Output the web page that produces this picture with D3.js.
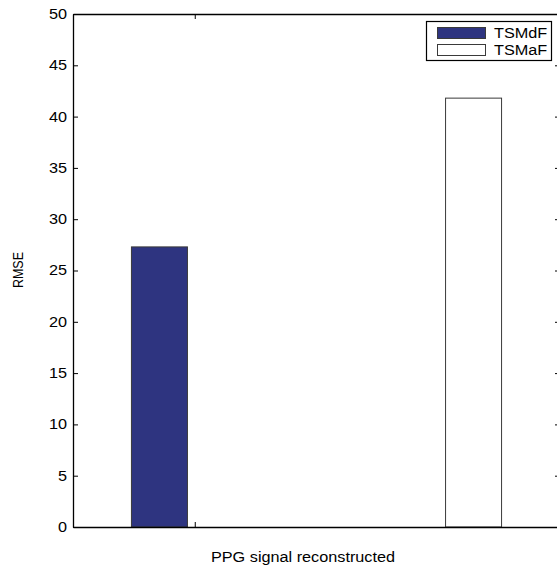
<!DOCTYPE html>
<html><head><meta charset="utf-8">
<script src="https://cdn.jsdelivr.net/npm/d3@7"></script>
<style>body{margin:0;background:#fff}svg{display:block}text{font-family:"Liberation Sans",Arial,sans-serif}</style>
</head><body><div id="chart"></div>
<script>
const seriesNames = ["TSMdF", "TSMaF"];
const groupIndex = [1, 2];
const rmseValues = [27.3, 41.8];
const yTicks = [0, 5, 10, 15, 20, 25, 30, 35, 40, 45, 50];
const xTicks = [1];
const colors = ["#2e3480", "#ffffff"];

const W = 557, H = 566;
const SX = 1.16; // horizontal stretch of the reference's lettering
const m = {left: 73, top: 14, right: 560, bottom: 527};
const svg = d3.select("#chart").append("svg").attr("width", W).attr("height", H);

const x = d3.scaleLinear().domain([0.5, 2.5]).range([m.left, m.right]);
const y = d3.scaleLinear().domain([0, 50]).range([m.bottom, m.top]);

const barW = 0.23, offset = 0.145;
svg.selectAll("rect.bar").data(rmseValues).join("rect")
  .attr("class", "bar")
  .attr("x", (d, i) => x(groupIndex[i] + (i === 0 ? -offset : offset) - barW / 2))
  .attr("width", (d, i) => x(barW) - x(0))
  .attr("y", d => y(d))
  .attr("height", d => y(0) - y(d))
  .attr("fill", (d, i) => colors[i])
  .attr("stroke", "#3a3a3a")
  .attr("stroke-width", 1);

// axes
const axL = svg.append("g").attr("transform", `translate(${m.left},0)`)
  .call(d3.axisLeft(y).tickValues(yTicks).tickSizeInner(-5).tickSizeOuter(0).tickPadding(5));
const axR = svg.append("g").attr("transform", `translate(${m.right},0)`)
  .call(d3.axisRight(y).tickValues(yTicks).tickSizeInner(-5).tickSizeOuter(0).tickFormat(""));
const axB = svg.append("g").attr("transform", `translate(0,${m.bottom})`)
  .call(d3.axisBottom(x).tickValues(xTicks).tickSizeInner(-5).tickSizeOuter(0).tickFormat(""));
const axT = svg.append("g").attr("transform", `translate(0,${m.top})`)
  .call(d3.axisTop(x).tickValues(xTicks).tickSizeInner(-5).tickSizeOuter(0).tickFormat(""));
[axL, axR, axB, axT].forEach(g => {
  g.selectAll("path.domain").attr("stroke", "#000").attr("stroke-width", 1.3);
  g.selectAll(".tick line").attr("stroke", "#000");
});
axL.selectAll("text").attr("font-size", 14).attr("fill", "#000")
  .attr("font-family", "'Liberation Sans', Arial, sans-serif")
  .attr("x", -6 / SX).attr("transform", `scale(${SX},1)`);

// labels
svg.append("text").attr("transform", `translate(303,562) scale(${SX},1)`).attr("text-anchor", "middle")
  .attr("font-size", 14).text("PPG signal reconstructed");
svg.append("text").attr("transform", `translate(23,270) scale(${SX},1) rotate(-90)`)
  .attr("text-anchor", "middle").attr("font-size", 12.5).text("RMSE");

// legend
const lg = svg.append("g");
lg.append("rect").attr("x", 426.5).attr("y", 21.5).attr("width", 125).attr("height", 39)
  .attr("fill", "#fff").attr("stroke", "#000").attr("stroke-width", 1.2);
seriesNames.forEach((n, i) => {
  lg.append("rect").attr("x", 437.5).attr("y", 27.5 + i * 17).attr("width", 48).attr("height", 11)
    .attr("fill", colors[i]).attr("stroke", "#3a3a3a");
  lg.append("text").attr("transform", `translate(494,${38 + i * 17}) scale(${SX},1)`)
    .attr("font-size", 14).text(n);
});
</script></body></html>
